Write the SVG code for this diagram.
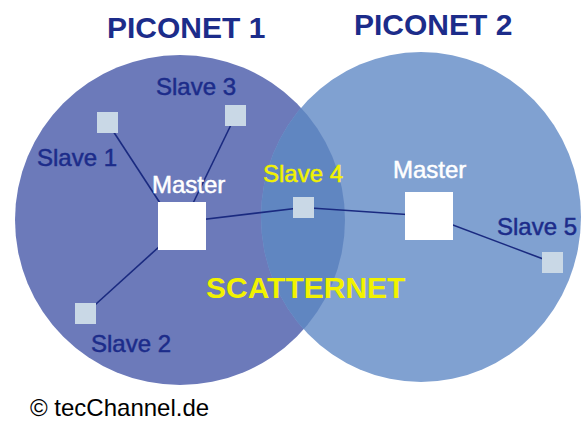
<svg xmlns="http://www.w3.org/2000/svg" width="582" height="421" viewBox="0 0 582 421">
<style>
.t{font-family:"Liberation Sans",Arial,sans-serif;font-size:24px}
.lbl{stroke-width:0.5px}
.navy{fill:#1c2c8a}
.navy.lbl{stroke:#1c2c8a}
.yel{fill:#f2f200}
.yel.lbl{stroke:#f2f200}
.wht{fill:#ffffff;stroke:#ffffff}
.title{font-size:30px;font-weight:bold}
.slave{fill:#c9d8e6}
.master{fill:#ffffff}
.conn line{stroke:#1a2a80;stroke-width:1.6}
</style>
<defs>
<clipPath id="c1"><circle cx="180" cy="220" r="165"/></clipPath>
</defs>
<rect width="582" height="421" fill="#ffffff"/>
<g id="piconet1">
<circle cx="180" cy="220" r="165" fill="#6c7aba"/>
<text class="t navy title" x="107" y="38">PICONET 1</text>
</g>
<g id="piconet2">
<ellipse cx="421" cy="217" rx="160" ry="165" fill="#80a1d1"/>
<text class="t navy title" x="354" y="35">PICONET 2</text>
</g>
<g id="scatternet">
<ellipse cx="421" cy="217" rx="160" ry="165" fill="#6086c1" clip-path="url(#c1)"/>
<text class="t yel title" x="206" y="298">SCATTERNET</text>
</g>
<g id="connectors" class="conn">
<line x1="107.5" y1="122.5" x2="175" y2="226"/>
<line x1="235.5" y1="115.5" x2="182" y2="226"/>
<line x1="85.5" y1="313.5" x2="182" y2="226"/>
<line x1="182" y1="222" x2="303.5" y2="207.5"/>
<line x1="303.5" y1="207.5" x2="429" y2="216"/>
<line x1="429" y1="216" x2="552.5" y2="262.5"/>
</g>
<g id="slave1">
<rect class="slave" x="97" y="112" width="21" height="21"/>
<text class="t lbl navy" x="37" y="166">Slave 1</text>
</g>
<g id="slave3">
<rect class="slave" x="225" y="105" width="21" height="21"/>
<text class="t lbl navy" x="156" y="95">Slave 3</text>
</g>
<g id="slave2">
<rect class="slave" x="75" y="303" width="21" height="21"/>
<text class="t lbl navy" x="91" y="352">Slave 2</text>
</g>
<g id="master1">
<rect class="master" x="158" y="202" width="48" height="48"/>
<text class="t lbl wht" x="152" y="193">Master</text>
</g>
<g id="slave4">
<rect class="slave" x="293" y="197" width="21" height="21"/>
<text class="t lbl yel" x="263" y="182">Slave 4</text>
</g>
<g id="master2">
<rect class="master" x="405" y="192" width="48" height="48"/>
<text class="t lbl wht" x="393" y="178">Master</text>
</g>
<g id="slave5">
<rect class="slave" x="542" y="252" width="21" height="21"/>
<text class="t lbl navy" x="497" y="235">Slave 5</text>
</g>
<g id="copyright">
<text class="t" x="30" y="416" font-size="24.5" fill="#000000">© tecChannel.de</text>
</g>
</svg>
